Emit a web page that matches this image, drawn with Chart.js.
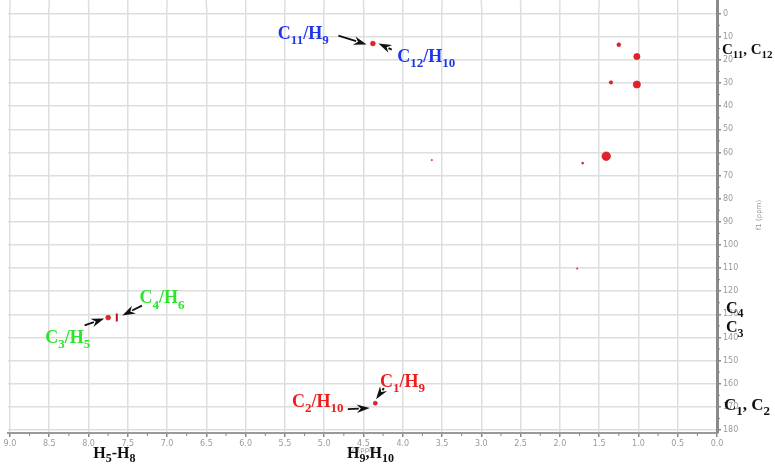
<!DOCTYPE html>
<html>
<head>
<meta charset="utf-8">
<script src="https://cdn.jsdelivr.net/npm/chart.js@4.4.1/dist/chart.umd.min.js"></script>
<style>
  html, body { margin: 0; padding: 0; background: #fff; }
  #wrap { width: 775px; height: 464px; }
</style>
</head>
<body>
<div id="wrap"><canvas id="hsqc" width="775" height="464"></canvas></div>
<script>
// cross peaks: f2 = 1H shift, f1 = 13C shift (ppm)
const f2Shift = [4.38, 1.25, 1.02, 1.35, 1.02, 1.41, 1.71, 3.63, 1.78, 7.75, 7.64, 4.35];
const f1Shift = [12.9, 13.4, 18.5, 29.7, 30.6, 61.6, 64.6, 63.3, 110.2, 131.4, 131.4, 168.4];

// tick labels
const xTicks = [0, 0.5, 1, 1.5, 2, 2.5, 3, 3.5, 4, 4.5, 5, 5.5, 6, 6.5, 7, 7.5, 8, 8.5, 9];
const yTicks = [0, 10, 20, 30, 40, 50, 60, 70, 80, 90, 100, 110, 120, 130, 140, 150, 160, 170, 180];

// assignment labels  (text, anchor f2, anchor f1, colour)
const labelText = ["C_{11}/H_{9}", "C_{12}/H_{10}", "C_{4}/H_{6}", "C_{3}/H_{5}", "C_{1}/H_{9}", "C_{2}/H_{10}",
  "C_{11}, C_{12}", "C_{4}", "C_{3}", "C_{1}, C_{2}", "H_{5}-H_{8}", "H_{9},H_{10}"];
const labelF2 = [5.59, 4.07, 7.35, 8.55, 4.29, 5.41, -0.064, -0.115, -0.115, -0.089, 7.94, 4.71];
const labelF1 = [10.8, 20.7, 125.3, 142.5, 161.5, 170.1, 17.2, 129.2, 137.8, 171.4, 192.1, 192.1];
const labelColor = ["#1f35e8", "#1f35e8", "#2ee22e", "#2ee22e", "#ee1c1c", "#ee1c1c",
  "#111", "#111", "#111", "#111", "#111", "#111"];
const labelSize = [18, 18, 18, 18, 18, 18, 15, 16, 16, 17, 16, 16];

// arrows: tail (f2,f1) -> head (f2,f1)
const arrowFrom = [[4.82, 9.5], [4.14, 15.5], [7.32, 126.2], [8.05, 134.8], [4.24, 161.9], [4.70, 171.0]];
const arrowTo = [[4.46, 13.3], [4.31, 12.9], [7.57, 130.5], [7.80, 131.8], [4.34, 166.7], [4.42, 170.5]];

function drawRich(ctx, str, x, y, color, size) {
  ctx.fillStyle = color;
  ctx.textBaseline = "alphabetic";
  ctx.textAlign = "left";
  const parts = str.split(/(_\{[^}]*\})/);
  let cx = x;
  parts.forEach(p => {
    if (!p) return;
    if (p.startsWith("_{")) {
      const t = p.slice(2, -1);
      ctx.font = "bold " + Math.round(size * 0.74) + "px 'Liberation Serif'";
      ctx.fillText(t, cx, y + size * 0.28);
      cx += ctx.measureText(t).width;
    } else {
      ctx.font = "bold " + size + "px 'Liberation Serif'";
      ctx.fillText(p, cx, y);
      cx += ctx.measureText(p).width;
    }
  });
}

function drawArrow(ctx, x1, y1, x2, y2) {
  const a = Math.atan2(y2 - y1, x2 - x1);
  const hl = 13, hw = 4.3;
  const bx = x2 - hl * Math.cos(a), by = y2 - hl * Math.sin(a);
  ctx.strokeStyle = "#111";
  ctx.fillStyle = "#111";
  ctx.lineWidth = 1.8;
  ctx.beginPath();
  ctx.moveTo(x1, y1);
  ctx.lineTo(bx + 2 * Math.cos(a), by + 2 * Math.sin(a));
  ctx.stroke();
  ctx.beginPath();
  ctx.moveTo(x2, y2);
  ctx.lineTo(bx + hw * Math.sin(a), by - hw * Math.cos(a));
  ctx.lineTo(x2 - (hl - 4) * Math.cos(a), y2 - (hl - 4) * Math.sin(a));
  ctx.lineTo(bx - hw * Math.sin(a), by + hw * Math.cos(a));
  ctx.closePath();
  ctx.fill();
}

const extras = {
  id: "extras",
  beforeDatasetsDraw(chart) {
    // extend grid and right axis up to the top edge
    const ctx = chart.ctx, xs = chart.scales.x, area = chart.chartArea;
    ctx.save();
    ctx.strokeStyle = "#dedede";
    ctx.lineWidth = 1.5;
    xTicks.forEach(v => {
      const px = xs.getPixelForValue(v);
      ctx.beginPath(); ctx.moveTo(px, 0); ctx.lineTo(px, area.top); ctx.stroke();
    });
    ctx.strokeStyle = "#8a8a8a";
    ctx.lineWidth = 3;
    ctx.beginPath(); ctx.moveTo(area.right + 0.5, 0); ctx.lineTo(area.right + 0.5, area.top + 1); ctx.stroke();
    ctx.restore();
  },
  afterDraw(chart) {
    const ctx = chart.ctx;
    const xs = chart.scales.x, ys = chart.scales.y;
    const area = chart.chartArea;
    ctx.save();
    // minor ticks
    ctx.strokeStyle = "#888";
    ctx.lineWidth = 1;
    for (let v = 0.25; v < 9; v += 0.5) {
      const px = xs.getPixelForValue(v);
      ctx.beginPath(); ctx.moveTo(px, area.bottom); ctx.lineTo(px, area.bottom + 3); ctx.stroke();
    }
    for (let v = 5; v < 181; v += 10) {
      const py = ys.getPixelForValue(v);
      ctx.beginPath(); ctx.moveTo(area.right, py); ctx.lineTo(area.right + 3, py); ctx.stroke();
    }
    // axis titles
    ctx.fillStyle = "#999";
    ctx.font = "7px 'DejaVu Sans'";
    ctx.textAlign = "center";
    ctx.fillText("f2 (ppm)", xs.getPixelForValue(4.5), 452);
    ctx.translate(761, 215);
    ctx.rotate(-Math.PI / 2);
    ctx.fillText("f1 (ppm)", 0, 0);
    ctx.setTransform(1, 0, 0, 1, 0, 0);
    // arrows
    arrowFrom.forEach((f, i) => {
      const t = arrowTo[i];
      drawArrow(ctx, xs.getPixelForValue(f[0]), ys.getPixelForValue(f[1]),
        xs.getPixelForValue(t[0]), ys.getPixelForValue(t[1]));
    });
    // labels
    labelText.forEach((s, i) => {
      drawRich(ctx, s, xs.getPixelForValue(labelF2[i]), ys.getPixelForValue(labelF1[i]), labelColor[i], labelSize[i]);
    });
    ctx.restore();
  }
};

const ctx = document.getElementById("hsqc").getContext("2d");
const points = f2Shift.map((x, i) => ({ x: x, y: f1Shift[i] }));

new Chart(ctx, {
  type: "scatter",
  data: {
    datasets: [{
      data: points,
      backgroundColor: "rgba(228,22,30,0.95)",
      borderColor: "#c40f16",
      borderWidth: [0.6, 0.6, 0.6, 0.6, 0.6, 0.6, 0.4, 0.3, 0.3, 0.6, 2, 0.6],
      pointRadius: [2.4, 1.9, 3.1, 1.7, 3.6, 4.3, 1.1, 0.8, 0.8, 2.4, 4, 2],
      pointStyle: ["circle", "circle", "circle", "circle", "circle", "circle", "circle", "circle", "circle", "circle", "line", "circle"],
      rotation: [0, 0, 0, 0, 0, 0, 0, 0, 0, 0, 90, 0],
      pointHoverRadius: 4
    }]
  },
  options: {
    responsive: false,
    animation: false,
    layout: { padding: { left: 8, top: 0, right: 0, bottom: 0 } },
    plugins: { legend: { display: false }, tooltip: { enabled: false } },
    scales: {
      x: {
        type: "linear",
        reverse: true,
        min: 0,
        max: 9.025,
        afterBuildTicks: s => { s.ticks = xTicks.map(v => ({ value: v })); },
        afterFit: s => { s.height = 31; },
        grid: { color: "#dedede", lineWidth: 1.5, tickLength: 4, tickColor: "#888" },
        border: { color: "#9a9a9a", width: 2 },
        ticks: {
          autoSkip: false, maxRotation: 0, padding: 2,
          color: "#9a9a9a", font: { size: 8, family: "DejaVu Sans" },
          callback: v => Number(v).toFixed(1)
        }
      },
      y: {
        type: "linear",
        position: "right",
        reverse: true,
        min: -3.0,
        max: 181.3,
        afterBuildTicks: s => { s.ticks = yTicks.map(v => ({ value: v })); },
        afterFit: s => { s.width = 58; },
        grid: { color: "#dedede", lineWidth: 1.5, tickLength: 4, tickColor: "#888" },
        border: { color: "#8a8a8a", width: 3 },
        ticks: {
          autoSkip: false, padding: 2,
          color: "#9a9a9a", font: { size: 8, family: "DejaVu Sans" }
        }
      }
    }
  },
  plugins: [extras]
});
</script>
</body>
</html>
